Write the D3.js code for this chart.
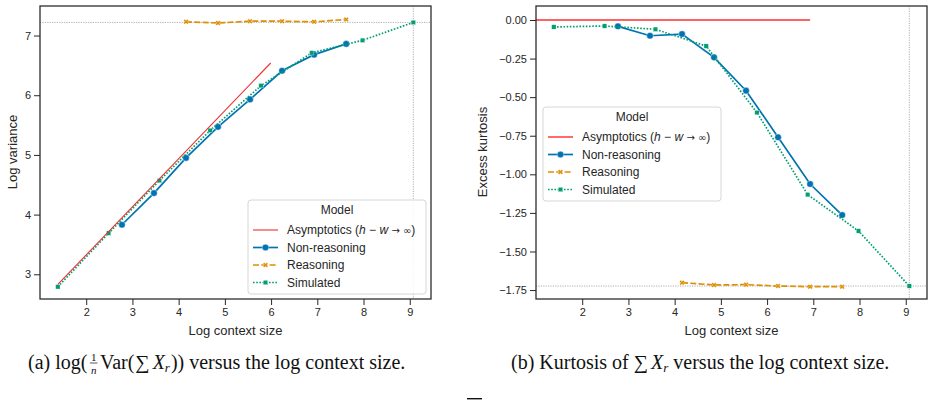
<!DOCTYPE html>
<html>
<head>
<meta charset="utf-8">
<script src="https://cdn.jsdelivr.net/npm/d3@7"></script>
<style>
  body { margin: 0; background: #fff; }
  svg { display: block; }
  text { font-family: "Liberation Sans", Arial, sans-serif; fill: #262626; white-space: pre; }
  .cap text { font-family: "Liberation Serif", "Times New Roman", serif; fill: #111; }
</style>
</head>
<body>
<div id="chart"></div>
<script>
// x positions (log context size)
const xSim = [1.386, 2.485, 3.584, 4.682, 5.781, 6.879, 7.978, 9.077];
const xNon = [2.773, 3.466, 4.159, 4.852, 5.545, 6.238, 6.931, 7.625];
const xReas = [4.159, 4.852, 5.545, 6.238, 6.931, 7.625];
const xTicks = [2, 3, 4, 5, 6, 7, 8, 9];

// (a) log variance
const varSim = [2.79, 3.69, 4.57, 5.41, 6.16, 6.71, 6.92, 7.22];
const varNon = [3.83, 4.36, 4.95, 5.47, 5.93, 6.41, 6.68, 6.86];
const varReas = [7.23, 7.21, 7.24, 7.24, 7.23, 7.27];
const varAsymX = [1.386, 5.991];
const varAsymY = [2.83, 6.54];
const varTicks = [3, 4, 5, 6, 7];

// (b) excess kurtosis
const kurSim = [-0.045, -0.039, -0.06, -0.169, -0.60, -1.132, -1.367, -1.724];
const kurNon = [-0.041, -0.102, -0.091, -0.242, -0.458, -0.760, -1.063, -1.264];
const kurReas = [-1.702, -1.717, -1.715, -1.724, -1.728, -1.728];
const kurAsymX = [1.0, 6.931];
const kurAsymY = [0, 0];
const kurTicks = [0, -0.25, -0.5, -0.75, -1.0, -1.25, -1.5, -1.75];

const seriesNames = ["Asymptotics", "Non-reasoning", "Reasoning", "Simulated"];

const C = {blue: "#0173b2", orange: "#de8f05", green: "#029e73", ink: "#262626"};

const svg = d3.select("#chart").append("svg")
    .attr("width", 936)
    .attr("height", 401);

const zip = (xs, ys) => xs.map((x, i) => ({x: x, y: ys[i]}));

const marker = (g, type, color) => {
    if (type === "circle") {
        return g.append("circle").attr("r", 3.3).attr("fill", color)
            .attr("stroke", "#fff").attr("stroke-width", 0.4);
    }
    if (type === "square") {
        return g.append("rect").attr("x", -2.2).attr("y", -2.2).attr("width", 4.4).attr("height", 4.4)
            .attr("fill", color).attr("stroke", "#fff").attr("stroke-width", 0.3);
    }
    return g.append("path").attr("d", d3.symbol(d3.symbolCross, 16)())
        .attr("transform", "rotate(45)").attr("fill", color)
        .attr("stroke", "#fff").attr("stroke-width", 0.3);
};

const panel = (opt) => {
    const x = d3.scaleLinear().domain([1.0, 9.46]).range([opt.left, opt.right]);
    const y = d3.scaleLinear().domain(opt.yDomain).range([299, 6]);
    const g = svg.append("g");
    const clipId = "clip" + opt.id;
    g.append("clipPath").attr("id", clipId).append("rect")
        .attr("x", opt.left).attr("y", 6).attr("width", opt.right - opt.left).attr("height", 293);

    // axes
    g.append("g").attr("transform", "translate(0,299)")
        .call(d3.axisBottom(x).tickValues(xTicks).tickSize(6).tickPadding(3).tickFormat(d3.format("d")))
        .call(a => a.select(".domain").remove());
    g.append("g").attr("transform", "translate(" + opt.left + ",0)")
        .call(d3.axisLeft(y).tickValues(opt.yTicks).tickSize(6).tickPadding(3).tickFormat(opt.yFormat))
        .call(a => a.select(".domain").remove());
    g.selectAll(".tick line").attr("stroke", C.ink).attr("stroke-width", 1);
    g.selectAll(".tick text").attr("fill", C.ink).style("font-size", "11px")
        .style("font-family", "'Liberation Sans', Arial, sans-serif");

    const plot = g.append("g").attr("clip-path", "url(#" + clipId + ")");

    // reference lines
    plot.append("line").attr("x1", opt.left).attr("x2", opt.right)
        .attr("y1", y(opt.hRef)).attr("y2", y(opt.hRef))
        .attr("stroke", "#999").attr("stroke-width", 0.8).attr("stroke-dasharray", "1.2,1.2");
    plot.append("line").attr("x1", x(opt.vRef)).attr("x2", x(opt.vRef))
        .attr("y1", 6).attr("y2", 299)
        .attr("stroke", "#999").attr("stroke-width", 0.8).attr("stroke-dasharray", "1.2,1.2");

    const line = d3.line().x(d => x(d.x)).y(d => y(d.y));

    const series = [
        {data: zip(xNon, opt.non), color: C.blue, dash: null, m: "circle"},
        {data: zip(xReas, opt.reas), color: C.orange, dash: "6,2.3", m: "x"},
        {data: zip(xSim, opt.sim), color: C.green, dash: "1.6,1.6", m: "square"}
    ];
    series.forEach(s => {
        plot.append("path").datum(s.data).attr("d", line)
            .attr("fill", "none").attr("stroke", s.color).attr("stroke-width", 1.7)
            .attr("stroke-dasharray", s.dash);
        s.data.forEach(d => {
            marker(plot.append("g").attr("transform", "translate(" + x(d.x) + "," + y(d.y) + ")"), s.m, s.color);
        });
    });

    plot.append("path").datum(zip(opt.asymX, opt.asymY)).attr("d", line)
        .attr("fill", "none").attr("stroke", opt.redColor).attr("stroke-width", opt.redWidth);

    // frame
    g.append("rect").attr("x", opt.left).attr("y", 6)
        .attr("width", opt.right - opt.left).attr("height", 293)
        .attr("fill", "none").attr("stroke", C.ink).attr("stroke-width", 1.25);

    // axis labels
    g.append("text").attr("x", (opt.left + opt.right) / 2).attr("y", 335)
        .attr("text-anchor", "middle").style("font-size", "13px").text("Log context size");
    g.append("text").attr("transform", "translate(" + opt.yLabelX + ",152) rotate(-90)")
        .attr("text-anchor", "middle").style("font-size", "13px").text(opt.yLabel);

    // legend
    const lg = g.append("g").attr("transform", "translate(" + opt.legX + "," + opt.legY + ")");
    lg.append("rect").attr("width", 178).attr("height", 94).attr("rx", 3)
        .attr("fill", "#fff").attr("fill-opacity", 0.85).attr("stroke", "#d6d6d6").attr("stroke-width", 1);
    lg.append("text").attr("x", 89).attr("y", 14).attr("text-anchor", "middle")
        .style("font-size", "12px").text("Model");
    const rows = [
        {color: opt.redColor, dash: null, m: null, w: opt.redWidth},
        {color: C.blue, dash: null, m: "circle", w: 1.7},
        {color: C.orange, dash: "6,2.3", m: "x", w: 1.7},
        {color: C.green, dash: "1.6,1.6", m: "square", w: 1.7}
    ];
    rows.forEach((r, i) => {
        const yy = 30 + i * 17.5;
        lg.append("line").attr("x1", 5).attr("x2", 30).attr("y1", yy).attr("y2", yy)
            .attr("stroke", r.color).attr("stroke-width", r.w).attr("stroke-dasharray", r.dash);
        if (r.m) marker(lg.append("g").attr("transform", "translate(17.5," + yy + ")"), r.m, r.color);
        const t = lg.append("text").attr("x", 39).attr("y", yy + 4.2).style("font-size", "12px");
        if (i === 0) {
            t.append("tspan").text("Asymptotics (");
            t.append("tspan").style("font-style", "italic").text("h");
            t.append("tspan").text(" \u2212 ");
            t.append("tspan").style("font-style", "italic").text("w");
            t.append("tspan").text(" ");
            t.append("tspan").style("font-family", "'DejaVu Sans', sans-serif").style("font-size", "10px")
                .text("\u2192 \u221e");
            t.append("tspan").text(")");
        } else {
            t.text(seriesNames[i]);
        }
    });
};

panel({
    id: "a", left: 40, right: 431, yDomain: [2.586, 7.495], yTicks: varTicks,
    yFormat: d3.format("d"), sim: varSim, non: varNon, reas: varReas,
    asymX: varAsymX, asymY: varAsymY, hRef: 7.22, vRef: 9.077,
    redColor: "#ee3030", redWidth: 1.1, yLabel: "Log variance", yLabelX: 17,
    legX: 248, legY: 200
});

panel({
    id: "b", left: 536, right: 927, yDomain: [-1.808, 0.0907], yTicks: kurTicks,
    yFormat: d3.format(".2f"), sim: kurSim, non: kurNon, reas: kurReas,
    asymX: kurAsymX, asymY: kurAsymY, hRef: -1.724, vRef: 9.077,
    redColor: "#ff6262", redWidth: 1.9, yLabel: "Excess kurtosis", yLabelX: 487,
    legX: 543, legY: 107
});

// captions, laid out run by run
const caption = (x0, base, runs) => {
    const g = svg.append("g").attr("class", "cap");
    let x = x0;
    runs.forEach(r => {
        if (r.frac) {
            const num = g.append("text").attr("y", base - 8).style("font-size", "11px").text(r.frac[0]);
            const den = g.append("text").attr("y", base + 4.5).style("font-size", "11px")
                .style("font-style", "italic").text(r.frac[1]);
            const w = Math.max(num.node().getComputedTextLength(), den.node().getComputedTextLength()) + 3;
            num.attr("x", x + w / 2).attr("text-anchor", "middle");
            den.attr("x", x + w / 2).attr("text-anchor", "middle");
            g.append("line").attr("x1", x + 0.5).attr("x2", x + w - 0.5)
                .attr("y1", base - 6).attr("y2", base - 6).attr("stroke", "#111").attr("stroke-width", 0.7);
            x += w + 2;
            return;
        }
        const t = g.append("text").attr("x", x).attr("y", base + (r.dy || 0))
            .style("font-size", (r.size || 20) + "px")
            .style("font-style", r.it ? "italic" : "normal").text(r.t);
        x += t.node().getComputedTextLength() + (r.gap || 0);
    });
};

caption(28, 369, [
    {t: "(a) log(", gap: 2}, {frac: ["1", "n"]}, {t: "Var(", gap: 1}, {t: "\u2211", gap: 3},
    {t: "X", it: true}, {t: "r", it: true, size: 13, dy: 3, gap: 1}, {t: ")) versus the log context size."}
]);
caption(511, 369, [
    {t: "(b) Kurtosis of "}, {t: "\u2211", gap: 3}, {t: "X", it: true},
    {t: "r", it: true, size: 13, dy: 3}, {t: " versus the log context size."}
]);

// cut-off glyph at the bottom edge
svg.append("rect").attr("x", 467).attr("y", 398).attr("width", 15).attr("height", 1.4).attr("fill", "#111");
</script>
</body>
</html>
